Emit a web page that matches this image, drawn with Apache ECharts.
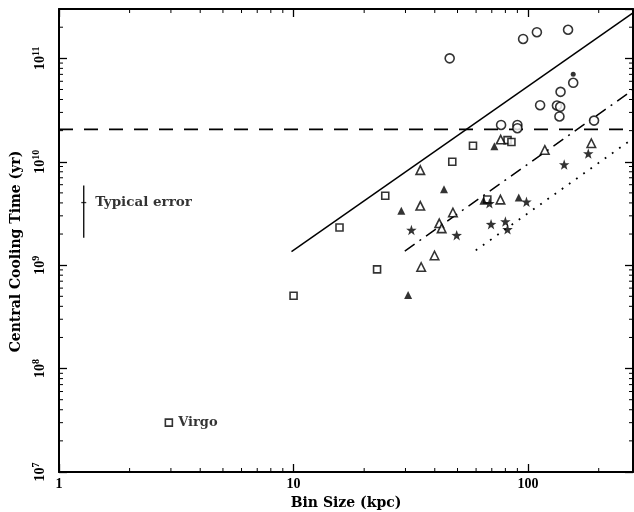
<!DOCTYPE html>
<html>
<head>
<meta charset="utf-8">
<script src="https://cdn.jsdelivr.net/npm/echarts@6/dist/echarts.min.js"></script>
<style>html,body{margin:0;padding:0;background:#fff;}#c{width:634px;height:512px;}</style>
</head>
<body>
<div id="c"></div>
<script>
// ---- axis ranges / labels ----
const xMin = 1, xMax = 280;
const yMin = 1e7, yMax = 3e11;
const xTitle = 'Bin Size (kpc)';
const yTitle = 'Central Cooling Time (yr)';

// ---- data (Bin size kpc, cooling time yr) ----
const circleX = [46.3, 95.2, 109, 148, 155.7, 137.5, 112.5, 132.7, 137, 136, 191, 76.7, 90, 90];
const circleY = [1.0e11, 1.54e11, 1.79e11, 1.89e11, 5.8e10, 4.74e10, 3.52e10, 3.5e10, 3.4e10, 2.74e10, 2.5e10, 2.27e10, 2.27e10, 2.11e10];
const dotX = [155.7];
const dotY = [7.0e10];
const squareX = [10, 15.7, 22.7, 24.6, 47.5, 58.2, 81.7, 84.9, 67];
const squareY = [5.06e8, 2.31e9, 9.1e8, 4.69e9, 1.0e10, 1.43e10, 1.62e10, 1.55e10, 4.32e9];
const virgoX = [2.94];
const virgoY = [3.0e7];
const openTriX = [34.7, 34.7, 47.8, 41.8, 42.8, 39.9, 35, 76.4, 76.2, 117.8, 186];
const openTriY = [8.3e9, 3.75e9, 3.23e9, 2.54e9, 2.27e9, 1.24e9, 9.6e8, 1.64e10, 4.3e9, 1.3e10, 1.51e10];
const fillTriX = [71.8, 43.8, 28.8, 91.2, 30.8, 64.5];
const fillTriY = [1.41e10, 5.43e9, 3.36e9, 4.52e9, 5.14e8, 4.2e9];
const starX = [31.8, 49.6, 68.4, 69.5, 80, 81.7, 98.4, 142.5, 180.5];
const starY = [2.19e9, 1.95e9, 3.96e9, 2.49e9, 2.64e9, 2.22e9, 4.1e9, 9.4e9, 1.2e10];

// ---- reference lines ----
const solidX = [9.8, 280];
const solidY = [1.35e9, 2.75e11];
const dashDotX = [29.8, 280];
const dashDotY = [1.37e9, 4.95e10];
const dottedX = [59.8, 280];
const dottedY = [1.39e9, 1.68e10];
const hubbleX = [1, 280];
const hubbleY = [2.06e10, 2.06e10];

// ---- typical error bar ----
const errX = [1.275];
const errLo = [1.84e9];
const errHi = [5.9e9];
const errMid = [4.03e9];

// ---- minor tick values ----
const xMinor = [2,3,4,5,6,7,8,9,20,30,40,50,60,70,80,90,200];
const yMinor = [];
[7,8,9,10].forEach(e => { for (let k = 2; k <= 9; k++) yMinor.push(k * Math.pow(10, e)); });
yMinor.push(2e11);

const FONT = 'DejaVu Serif';
const NUMFONT = 'Liberation Serif';
const zip = (a, b) => a.map((v, i) => [v, b[i]]);
const STAR = 'path://M0,-10L2.35,-3.24L9.51,-3.09L3.8,1.24L5.88,8.09L0,4L-5.88,8.09L-3.8,1.24L-9.51,-3.09L-2.35,-3.24Z';

const isPow = v => Math.abs(Math.log10(v) - Math.round(Math.log10(v))) < 1e-6;

const axisCommon = {
  type: 'log', logBase: 10, interval: 1,
  axisLine: { show: true, lineStyle: { color: '#000', width: 2 } },
  axisTick: { show: true, inside: true, length: 8, lineStyle: { color: '#000', width: 1.3 } },
  splitLine: { show: false },
  minorTick: { show: false },
};

const chart = echarts.init(document.getElementById('c'), null, { renderer: 'canvas' });

function minorTicks(params, api) {
  const cs = params.coordSys;
  const v = api.value(0), w = api.value(1), kind = api.value(2);
  const L = 4;
  const st = { stroke: '#000', lineWidth: 1 };
  if (kind === 0) {
    const p = api.coord([v, yMin]);
    return { type: 'group', children: [
      { type: 'line', shape: { x1: p[0], y1: cs.y + cs.height, x2: p[0], y2: cs.y + cs.height - L }, style: st },
      { type: 'line', shape: { x1: p[0], y1: cs.y, x2: p[0], y2: cs.y + L }, style: st },
    ]};
  } else {
    const p = api.coord([xMin, w]);
    return { type: 'group', children: [
      { type: 'line', shape: { x1: cs.x, y1: p[1], x2: cs.x + L, y2: p[1] }, style: st },
      { type: 'line', shape: { x1: cs.x + cs.width, y1: p[1], x2: cs.x + cs.width - L, y2: p[1] }, style: st },
    ]};
  }
}
const tickData = xMinor.map(v => [v, yMin, 0]).concat(yMinor.map(v => [xMin, v, 1]));

const lineSeries = (xs, ys, type, width) => ({
  type: 'line', data: zip(xs, ys), symbol: 'none', silent: true, animation: false,
  lineStyle: { color: '#000', width: width, type: type }, z: 3
});

chart.setOption({
  animation: false,
  backgroundColor: '#fff',
  grid: { left: 59, right: 1, top: 9, bottom: 40, containLabel: false, outerBoundsMode: 'none' },
  xAxis: [
    Object.assign({}, axisCommon, {
      position: 'bottom', min: xMin, max: xMax,
      name: xTitle, nameLocation: 'middle', nameGap: 20,
      nameTextStyle: { fontFamily: FONT, fontWeight: 'bold', fontSize: 14, color: '#000' },
      axisLabel: { show: true, margin: 5, color: '#000', fontFamily: NUMFONT, fontWeight: 'bold', fontSize: 14,
        formatter: v => isPow(v) ? String(Math.round(v)) : '', showMaxLabel: false }
    }),
    Object.assign({}, axisCommon, { position: 'top', min: xMin, max: xMax, axisLabel: { show: false } })
  ],
  yAxis: [
    Object.assign({}, axisCommon, {
      position: 'left', min: yMin, max: yMax,
      name: yTitle, nameLocation: 'middle', nameGap: 32, nameRotate: 90,
      nameTextStyle: { fontFamily: FONT, fontWeight: 'bold', fontSize: 14, color: '#000', padding: [0, 22, 0, 0] },
      axisLabel: { show: true, rotate: 90, margin: 9, color: '#000',
        formatter: v => isPow(v) ? '{b|10}{s|' + Math.round(Math.log10(v)) + '}' : '',
        showMaxLabel: false,
        rich: {
          b: { fontFamily: NUMFONT, fontWeight: 'bold', fontSize: 14, lineHeight: 19, color: '#000' },
          s: { fontFamily: NUMFONT, fontWeight: 'bold', fontSize: 10, verticalAlign: 'top', color: '#000' }
        } }
    }),
    Object.assign({}, axisCommon, { position: 'right', min: yMin, max: yMax, axisLabel: { show: false } })
  ],
  series: [
    { type: 'custom', renderItem: minorTicks, data: tickData, silent: true, clip: false, z: 1 },
    lineSeries(hubbleX, hubbleY, [14, 11], 1.8),
    lineSeries(solidX, solidY, 'solid', 1.5),
    lineSeries(dashDotX, dashDotY, [12, 6, 2, 6], 1.5),
    lineSeries(dottedX, dottedY, [1.8, 7], 1.8),
    { type: 'line', data: [[errX[0], errLo[0]], [errX[0], errHi[0]]], symbol: 'none',
      lineStyle: { color: '#000', width: 1.3 }, z: 3 },
    { type: 'scatter', data: [[errX[0], errMid[0]]], symbol: 'rect', symbolSize: [5, 1.3],
      itemStyle: { color: '#000' },
      label: { show: true, position: 'right', distance: 9, formatter: 'Typical error',
        fontFamily: FONT, fontWeight: 'bold', fontSize: 13.5, color: '#000' }, z: 4 },
    { type: 'scatter', data: zip(circleX, circleY), symbol: 'circle', symbolSize: 9,
      itemStyle: { color: '#fff', borderColor: '#000', borderWidth: 1.6 }, z: 5 },
    { type: 'scatter', data: zip(dotX, dotY), symbol: 'circle', symbolSize: 5,
      itemStyle: { color: '#000' }, z: 5 },
    { type: 'scatter', data: zip(squareX, squareY), symbol: 'rect', symbolSize: 7,
      itemStyle: { color: '#fff', borderColor: '#000', borderWidth: 1.6 }, z: 5 },
    { type: 'scatter', data: zip(virgoX, virgoY), symbol: 'rect', symbolSize: 7,
      itemStyle: { color: '#fff', borderColor: '#000', borderWidth: 1.6 },
      label: { show: true, position: 'right', distance: 5, formatter: 'Virgo',
        fontFamily: FONT, fontWeight: 'bold', fontSize: 13, color: '#000' }, z: 5 },
    { type: 'scatter', data: zip(openTriX, openTriY), symbol: 'triangle', symbolSize: 8.5,
      itemStyle: { color: '#fff', borderColor: '#000', borderWidth: 1.6 }, z: 5 },
    { type: 'scatter', data: zip(fillTriX, fillTriY), symbol: 'triangle', symbolSize: 8,
      itemStyle: { color: '#000' }, z: 5 },
    { type: 'scatter', data: zip(starX, starY), symbol: STAR, symbolSize: 10.5,
      itemStyle: { color: '#000' }, z: 5 }
  ]
});
</script>
</body>
</html>
